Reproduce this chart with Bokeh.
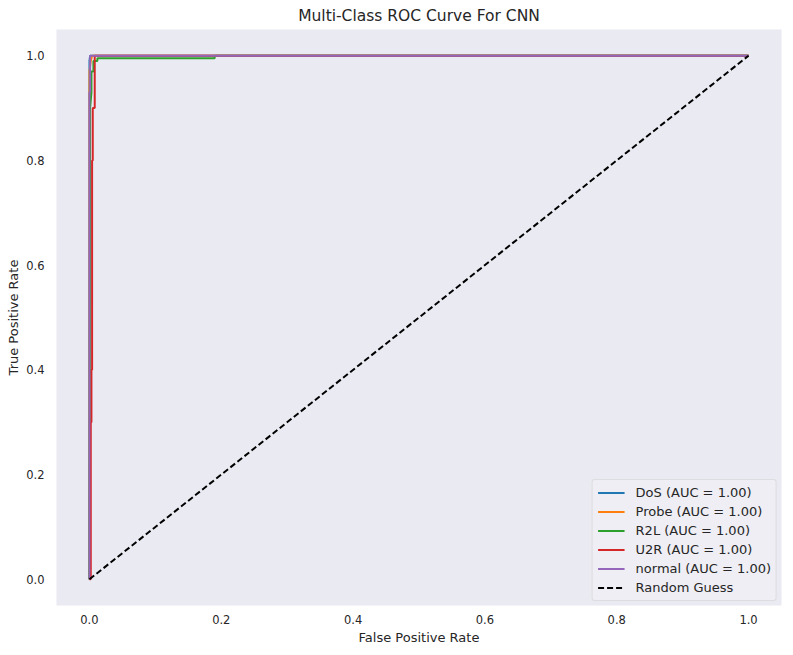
from bokeh.plotting import figure
from bokeh.models import Legend, LegendItem, FixedTicker, NumeralTickFormatter
from bokeh.embed import file_html
from bokeh.resources import INLINE

# ROC curve data
dos_fpr = [0.0, 0.0, 0.001, 1.0]
dos_tpr = [0.0, 0.99, 1.0, 1.0]

probe_fpr = [0.0, 0.0, 0.002, 0.004, 1.0]
probe_tpr = [0.0, 0.97, 0.99, 1.0, 1.0]

r2l_fpr = [0.0, 0.001, 0.003, 0.003, 0.006, 0.006, 0.012, 0.012, 0.19, 0.19, 1.0]
r2l_tpr = [0.0, 0.90, 0.93, 0.97, 0.97, 0.99, 0.99, 0.995, 0.995, 1.0, 1.0]

u2r_fpr = [0.0, 0.002, 0.002, 0.003, 0.003, 0.004, 0.004, 0.004, 0.005, 0.005, 0.008, 0.008, 1.0]
u2r_tpr = [0.0, 0.0, 0.3, 0.3, 0.4, 0.4, 0.7, 0.8, 0.8, 0.9, 0.9, 1.0, 1.0]

normal_fpr = [0.0, 0.0, 0.001, 0.001, 1.0]
normal_tpr = [0.0, 0.93, 0.93, 1.0, 1.0]

random_fpr = [0.0, 1.0]
random_tpr = [0.0, 1.0]

labels = ["DoS (AUC = 1.00)", "Probe (AUC = 1.00)", "R2L (AUC = 1.00)",
          "U2R (AUC = 1.00)", "normal (AUC = 1.00)", "Random Guess"]
colors = ["#1f77b4", "#ff7f0e", "#2ca02c", "#d62728", "#9467bd"]
ticks = [0.0, 0.2, 0.4, 0.6, 0.8, 1.0]

FONT = "DejaVu Sans"

p = figure(frame_width=725, frame_height=576, x_range=(-0.05, 1.05), y_range=(-0.05, 1.05),
           output_backend="svg", toolbar_location=None,
           title="Multi-Class ROC Curve For CNN",
           min_border_left=56, min_border_right=8, min_border_top=27, min_border_bottom=45)

p.background_fill_color = "#eaeaf2"
p.border_fill_color = "white"
p.outline_line_color = None
p.grid.visible = False

p.title.align = "center"
p.title.text_font = FONT
p.title.text_font_size = "15.5px"
p.title.text_font_style = "normal"
p.title.text_color = "#262626"
p.title.standoff = 9

for ax in (p.xaxis[0], p.yaxis[0]):
    ax.ticker = FixedTicker(ticks=ticks)
    ax.formatter = NumeralTickFormatter(format="0.0")
    ax.axis_line_color = None
    ax.major_tick_line_color = None
    ax.minor_tick_line_color = None
    ax.major_tick_out = 0
    ax.major_tick_in = 0
    ax.major_label_text_font = FONT
    ax.major_label_text_font_size = "11.5px"
    ax.major_label_text_color = "#262626"
    ax.axis_label_text_font = FONT
    ax.axis_label_text_font_size = "13px"
    ax.axis_label_text_font_style = "normal"
    ax.axis_label_text_color = "#262626"

p.xaxis[0].axis_label = "False Positive Rate"
p.yaxis[0].axis_label = "True Positive Rate"
p.xaxis[0].major_label_standoff = 9
p.yaxis[0].major_label_standoff = 12
p.xaxis[0].axis_label_standoff = 3
p.yaxis[0].axis_label_standoff = 2

series = [(dos_fpr, dos_tpr), (probe_fpr, probe_tpr), (r2l_fpr, r2l_tpr),
          (u2r_fpr, u2r_tpr), (normal_fpr, normal_tpr)]
renderers = []
for (fx, ty), c in zip(series, colors):
    r = p.line(fx, ty, line_color=c, line_width=2)
    renderers.append(r)
rg = p.line(random_fpr, random_tpr, line_color="black", line_width=2, line_dash="6 3")
renderers.append(rg)

legend = Legend(items=[LegendItem(label=l, renderers=[r]) for l, r in zip(labels, renderers)],
                location="bottom_right")
legend.label_text_font = FONT
legend.label_text_font_size = "13px"
legend.label_text_color = "#262626"
legend.background_fill_color = "#eeeef4"
legend.background_fill_alpha = 1.0
legend.border_line_color = "#cccccc"
legend.border_line_width = 1
legend.border_radius = 3
legend.glyph_width = 27
legend.glyph_height = 15
legend.label_height = 15
legend.spacing = 4
legend.padding = 5
legend.margin = 4
legend.label_standoff = 11
p.add_layout(legend)

open("out.html", "w").write(file_html(p, INLINE))
